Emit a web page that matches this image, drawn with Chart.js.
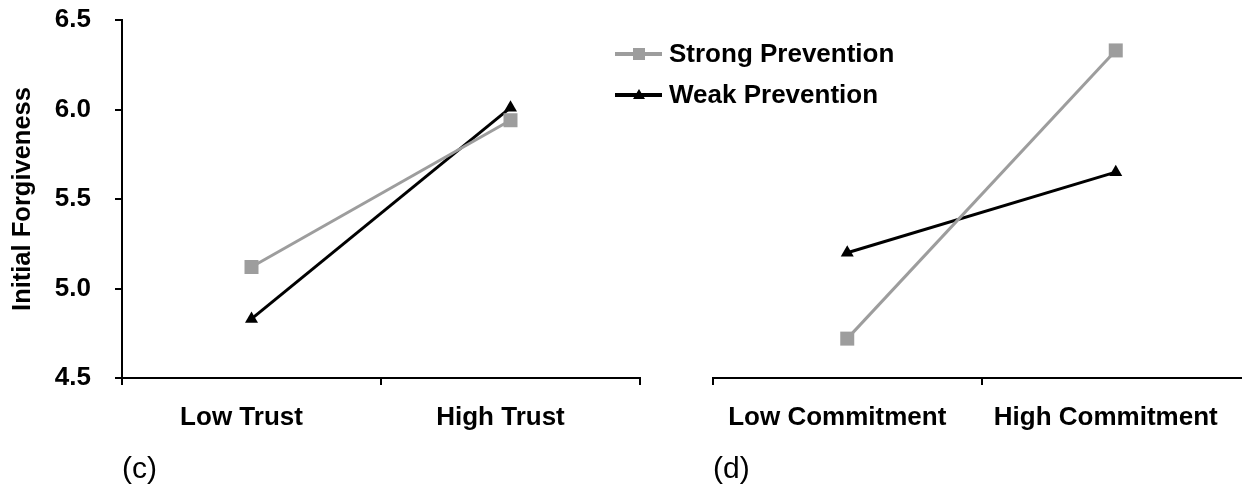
<!DOCTYPE html>
<html>
<head>
<meta charset="utf-8">
<script src="https://cdn.jsdelivr.net/npm/chart.js@4.4.0/dist/chart.umd.min.js"></script>
<style>
  html, body { margin: 0; padding: 0; background: #fff; overflow: hidden; }
  body { width: 1242px; height: 492px; position: relative; }
  .panel { position: absolute; top: 0; height: 492px; width: 660px; }
  #panelC { left: 0; }
  #panelD { left: 600px; }
</style>
</head>
<body>
<div class="panel" id="panelC"><canvas id="chartC"></canvas></div>
<div class="panel" id="panelD"><canvas id="chartD"></canvas></div>
<script>
const trustLabels = ['Low Trust', 'High Trust'];
const commitLabels = ['Low Commitment', 'High Commitment'];
const seriesNames = ['Strong Prevention', 'Weak Prevention'];
const trustStrong = [5.12, 5.94];
const trustWeak = [4.83, 6.01];
const commitStrong = [4.72, 6.33];
const commitWeak = [5.20, 5.65];
const yMin = 4.5;
const yMax = 6.5;
const yStep = 0.5;
const panelLetters = ['(c)', '(d)'];
const yTitle = 'Initial Forgiveness';

const GRAY = '#9d9d9d';
const BLACK = '#000000';
const FONT = "'Liberation Sans', Arial, sans-serif";

Chart.defaults.font.family = FONT;
Chart.defaults.color = '#000';

function makeDatasets(strong, weak) {
  return [{
    label: seriesNames[0],
    data: strong,
    borderColor: GRAY,
    backgroundColor: GRAY,
    borderWidth: 3,
    pointStyle: 'rect',
    pointRadius: 9.9,
    pointHoverRadius: 9.9,
    pointBorderWidth: 0,
    tension: 0
  }, {
    label: seriesNames[1],
    data: weak,
    borderColor: BLACK,
    backgroundColor: BLACK,
    borderWidth: 3,
    pointStyle: 'triangle',
    pointRadius: 7.5,
    pointHoverRadius: 7.5,
    pointBorderWidth: 0,
    tension: 0
  }];
}

function xAxis(letter) {
  return {
    type: 'category',
    offset: true,
    grid: {
      offset: true,
      drawOnChartArea: false,
      drawTicks: true,
      tickLength: 7,
      color: BLACK,
      lineWidth: 2
    },
    border: { display: true, color: BLACK, width: 2 },
    ticks: {
      font: { size: 26, weight: 'bold' },
      padding: 17,
      labelOffset: -10,
      maxRotation: 0,
      autoSkip: false
    },
    title: {
      display: true,
      text: letter,
      align: 'start',
      font: { size: 30, weight: 'normal' },
      padding: { top: 0, bottom: 4 }
    },
    afterFit: s => { s.height = 114; }
  };
}

function yAxis(show, width) {
  return {
    type: 'linear',
    display: show,
    min: yMin,
    max: yMax,
    grid: {
      drawOnChartArea: false,
      drawTicks: true,
      tickLength: 7,
      color: BLACK,
      lineWidth: 2
    },
    border: { display: true, color: BLACK, width: 2 },
    ticks: {
      stepSize: yStep,
      padding: 24,
      font: { size: 26, weight: 'bold' },
      callback: v => Number(v).toFixed(1)
    },
    title: {
      display: true,
      text: yTitle,
      font: { size: 25.5, weight: 'bold' },
      padding: { top: 8, bottom: 0 }
    },
    afterFit: s => {
      s.width = width;
      s.paddingTop = 0;
      s.paddingBottom = 0;
    }
  };
}

const insetLegend = {
  id: 'insetLegend',
  afterDraw(chart) {
    const ctx = chart.ctx;
    chart.data.datasets.forEach((ds, i) => {
      const y = 54 + i * 41;
      ctx.save();
      ctx.strokeStyle = ds.borderColor;
      ctx.fillStyle = ds.backgroundColor;
      ctx.lineWidth = 4;
      ctx.beginPath();
      ctx.moveTo(15, y);
      ctx.lineTo(62, y);
      ctx.stroke();
      if (ds.pointStyle === 'rect') {
        ctx.fillRect(33, y - 6, 12, 12);
      } else {
        ctx.beginPath();
        ctx.moveTo(39, y - 6);
        ctx.lineTo(45, y + 4);
        ctx.lineTo(33, y + 4);
        ctx.closePath();
        ctx.fill();
      }
      ctx.fillStyle = '#000';
      ctx.font = 'bold 26px ' + FONT;
      ctx.textBaseline = 'middle';
      ctx.textAlign = 'left';
      ctx.fillText(ds.label, 69, y + 1);
      ctx.restore();
    });
  }
};

new Chart(document.getElementById('chartC'), {
  type: 'line',
  data: { labels: trustLabels, datasets: makeDatasets(trustStrong, trustWeak) },
  options: {
    responsive: true,
    maintainAspectRatio: false,
    animation: false,
    layout: { padding: { top: 20, left: 0, right: 20, bottom: 0 } },
    plugins: { legend: { display: false }, tooltip: { enabled: false } },
    scales: { x: xAxis(panelLetters[0]), y: yAxis(true, 122) }
  }
});

new Chart(document.getElementById('chartD'), {
  type: 'line',
  data: { labels: commitLabels, datasets: makeDatasets(commitStrong, commitWeak) },
  options: {
    responsive: true,
    maintainAspectRatio: false,
    animation: false,
    layout: { padding: { top: 20, left: 0, right: 10, bottom: 0 } },
    plugins: { legend: { display: false }, tooltip: { enabled: false } },
    scales: { x: xAxis(panelLetters[1]), y: yAxis(false, 113) }
  },
  plugins: [insetLegend]
});
</script>
</body>
</html>
